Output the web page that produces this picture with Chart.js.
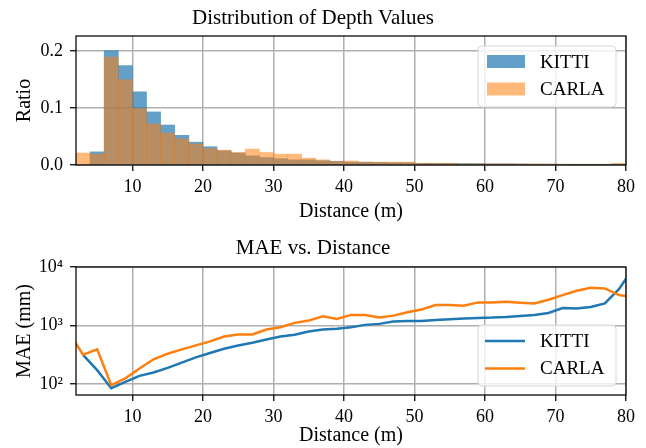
<!DOCTYPE html>
<html>
<head>
<meta charset="utf-8">
<script src="https://cdn.jsdelivr.net/npm/chart.js@4.4.0/dist/chart.umd.min.js"></script>
<style>
    html, body { margin: 0; padding: 0; background: #fff; }
    .box { position: absolute; left: 0; width: 646px; height: 224px; }
    #topBox { top: 0; }
    #bottomBox { top: 224px; }
</style>
</head>
<body>
<div class="box" id="topBox"><canvas id="histChart" width="646" height="224"></canvas></div>
<div class="box" id="bottomBox"><canvas id="maeChart" width="646" height="224"></canvas></div>
<script>
// ---- dados ----
const seriesNames = ['KITTI', 'CARLA'];

// centros dos bins de 2 m (2..80)
const binCenters = [3, 5, 7, 9, 11, 13, 15, 17, 19, 21, 23, 25, 27, 29, 31, 33, 35, 37, 39, 41,
    43, 45, 47, 49, 51, 53, 55, 57, 59, 61, 63, 65, 67, 69, 71, 73, 75, 77, 79];

const kittiRatio = [0.000, 0.023, 0.200, 0.174, 0.128, 0.093, 0.070, 0.052, 0.040, 0.032,
    0.025, 0.021, 0.016, 0.013, 0.011, 0.009, 0.009, 0.0075, 0.0065, 0.005,
    0.005, 0.0045, 0.004, 0.004, 0.003, 0.003, 0.003, 0.0025, 0.0025, 0.002,
    0.002, 0.0018, 0.0015, 0.0012, 0.001, 0.0005, 0.0003, 0.0002, 0.0001];

const carlaRatio = [0.021, 0.019, 0.189, 0.149, 0.099, 0.072, 0.056, 0.046, 0.037, 0.029,
    0.026, 0.022, 0.028, 0.022, 0.019, 0.019, 0.012, 0.009, 0.0065, 0.007,
    0.005, 0.005, 0.005, 0.005, 0.003, 0.003, 0.003, 0.002, 0.002, 0.002,
    0.002, 0.002, 0.002, 0.002, 0.001, 0.001, 0.001, 0.001, 0.003];

// distâncias do MAE (pontos fora do eixo são cortados)
const maeDistance = [1, 3, 5, 7, 9, 11, 13, 15, 17, 19, 21, 23, 25, 27, 29, 31, 33, 35, 37, 39, 41,
    43, 45, 47, 49, 51, 53, 55, 57, 59, 61, 63, 65, 67, 69, 71, 73, 75, 77, 79, 81];

const kittiMae = [null, 316, 173, 85, 109, 138, 158, 189, 233, 286, 340, 402, 455, 508, 579, 651,
    695, 791, 855, 879, 937, 1026, 1067, 1169, 1199, 1190, 1248, 1281, 1315, 1350, 1367,
    1403, 1459, 1518, 1640, 1991, 1960, 2072, 2390, 4180, 9500];

const carlaMae = [760, 318, 393, 96, 125, 185, 265, 330, 392, 458, 535, 650, 700, 703, 855, 935,
    1110, 1215, 1440, 1300, 1518, 1518, 1367, 1476, 1682, 1880, 2240, 2240, 2183, 2485, 2485,
    2550, 2455, 2390, 2760, 3310, 3920, 4400, 4300, 3310, 3100];

const distanceTicks = [10, 20, 30, 40, 50, 60, 70, 80];
const ratioTicks = [0, 0.1, 0.2];
const maeTicks = [100, 1000, 10000];

// ---- estilo ----
const FONT = "'Liberation Serif', 'Times New Roman', serif";
const BLUE = '#1f77b4';
const ORANGE = '#ff7f0e';
const GRID = '#b0b0b0';

const superDigits = { '0': '⁰', '1': '¹', '2': '²', '3': '³', '4': '⁴', '5': '⁵' };

// moldura preta em volta da área do gráfico
const framePlugin = {
    id: 'frame',
    afterDatasetsDraw(chart) {
        const { ctx, chartArea: a } = chart;
        ctx.save();
        ctx.strokeStyle = '#000';
        ctx.lineWidth = 1.25;
        ctx.strokeRect(a.left, a.top, a.right - a.left, a.bottom - a.top);
        ctx.restore();
    }
};

// legenda dentro do gráfico, estilo matplotlib
const boxLegendPlugin = {
    id: 'boxLegend',
    afterDraw(chart, args, opts) {
        const { ctx, chartArea: a } = chart;
        const w = 138, h = 61;
        const x = a.right - 10 - w;
        const y = opts.corner === 'bottom' ? a.bottom - 9 - h : a.top + 10;
        ctx.save();
        ctx.beginPath();
        ctx.roundRect(x, y, w, h, 4);
        ctx.fillStyle = 'rgba(255,255,255,0.8)';
        ctx.fill();
        ctx.strokeStyle = '#d6d6d6';
        ctx.lineWidth = 1;
        ctx.stroke();

        ctx.font = '19px ' + FONT;
        ctx.textBaseline = 'middle';
        ctx.fillStyle = '#000';
        opts.items.forEach((it, i) => {
            const cy = y + 16 + i * 27.5;
            if (opts.kind === 'patch') {
                ctx.fillStyle = it.color;
                ctx.fillRect(x + 9, cy - 7, 38, 13);
            } else {
                ctx.strokeStyle = it.color;
                ctx.lineWidth = 2.5;
                ctx.beginPath();
                ctx.moveTo(x + 7, cy);
                ctx.lineTo(x + 47, cy);
                ctx.stroke();
            }
            ctx.fillStyle = '#000';
            ctx.fillText(it.label, x + 62, cy + 1);
        });
        ctx.restore();
    }
};

function distanceAxis(axisHeight) {
    return {
        type: 'linear',
        min: 2,
        max: 80,
        offset: false,
        afterBuildTicks: (s) => { s.ticks = distanceTicks.map(v => ({ value: v })); },
        afterFit: (s) => { s.height = axisHeight; },
        grid: { color: GRID, lineWidth: 1.5, tickColor: '#000', tickLength: 6, tickWidth: 1.25, offset: false },
        border: { display: false },
        ticks: {
            color: '#000', padding: 5, maxRotation: 0, autoSkip: false,
            font: { family: FONT, size: 18 },
            callback: (v) => String(v)
        },
        title: {
            display: true, text: 'Distance (m)', color: '#000',
            font: { family: FONT, size: 20 },
            padding: { top: 0, bottom: 0 }
        }
    };
}

function leftAxis(extra) {
    return Object.assign({
        grid: { color: GRID, lineWidth: 1.5, tickColor: '#000', tickLength: 6, tickWidth: 1.25 },
        border: { display: false },
        afterFit: (s) => { s.width = 76; }
    }, extra);
}

// ---- histograma ----
function createHistChart() {
    const ctx = document.getElementById('histChart').getContext('2d');

    new Chart(ctx, {
        type: 'bar',
        data: {
            datasets: [
                {
                    label: seriesNames[0],
                    data: binCenters.map((x, i) => ({ x: x, y: kittiRatio[i] })),
                    backgroundColor: 'rgba(31,119,180,0.7)',
                    borderWidth: 0,
                    order: 1
                },
                {
                    label: seriesNames[1],
                    data: binCenters.map((x, i) => ({ x: x, y: carlaRatio[i] })),
                    backgroundColor: 'rgba(255,127,14,0.55)',
                    borderWidth: 0,
                    order: 0
                }
            ]
        },
        options: {
            responsive: false,
            animation: false,
            events: [],
            grouped: false,
            barPercentage: 1,
            categoryPercentage: 1,
            layout: { padding: { left: 0, right: 20, top: 0, bottom: 0 } },
            plugins: {
                legend: { display: false },
                tooltip: { enabled: false },
                title: {
                    display: true, text: 'Distribution of Depth Values', color: '#000',
                    font: { family: FONT, size: 21, weight: 'normal' },
                    padding: { top: 6, bottom: 4.8 }
                },
                boxLegend: {
                    kind: 'patch', corner: 'top',
                    items: [
                        { label: seriesNames[0], color: 'rgba(31,119,180,0.7)' },
                        { label: seriesNames[1], color: 'rgba(255,127,14,0.55)' }
                    ]
                }
            },
            scales: {
                x: distanceAxis(59),
                y: leftAxis({
                    type: 'linear',
                    min: 0,
                    max: 0.226,
                    afterBuildTicks: (s) => { s.ticks = ratioTicks.map(v => ({ value: v })); },
                    ticks: {
                        color: '#000', padding: 7,
                        font: { family: FONT, size: 18 },
                        callback: (v) => v.toFixed(1)
                    },
                    title: {
                        display: true, text: 'Ratio', color: '#000',
                        font: { family: FONT, size: 20 },
                        padding: { top: 13, bottom: 0 }
                    }
                })
            }
        },
        plugins: [framePlugin, boxLegendPlugin]
    });
}

// ---- MAE vs distância ----
function createMaeChart() {
    const ctx = document.getElementById('maeChart').getContext('2d');

    const line = (name, values, color) => ({
        label: name,
        data: maeDistance.map((x, i) => ({ x: x, y: values[i] })),
        borderColor: color,
        backgroundColor: color,
        borderWidth: 2.5,
        pointRadius: 0,
        tension: 0,
        spanGaps: false
    });

    new Chart(ctx, {
        type: 'line',
        data: {
            datasets: [
                line(seriesNames[1], carlaMae, ORANGE),
                line(seriesNames[0], kittiMae, BLUE)
            ]
        },
        options: {
            responsive: false,
            animation: false,
            events: [],
            layout: { padding: { left: 0, right: 20, top: 0, bottom: 0 } },
            plugins: {
                legend: { display: false },
                tooltip: { enabled: false },
                title: {
                    display: true, text: 'MAE vs. Distance', color: '#000',
                    font: { family: FONT, size: 21, weight: 'normal' },
                    padding: { top: 12, bottom: 5.8 }
                },
                boxLegend: {
                    kind: 'line', corner: 'bottom',
                    items: [
                        { label: seriesNames[0], color: BLUE },
                        { label: seriesNames[1], color: ORANGE }
                    ]
                }
            },
            scales: {
                x: distanceAxis(53),
                y: leftAxis({
                    type: 'logarithmic',
                    min: 65,
                    max: 10000,
                    afterBuildTicks: (s) => { s.ticks = maeTicks.map(v => ({ value: v })); },
                    ticks: {
                        color: '#000', padding: 7,
                        font: { family: FONT, size: 18 },
                        callback: (v) => '10' + superDigits[String(Math.round(Math.log10(v)))]
                    },
                    title: {
                        display: true, text: 'MAE (mm)', color: '#000',
                        font: { family: FONT, size: 20 },
                        padding: { top: 13, bottom: 0 }
                    }
                })
            }
        },
        plugins: [framePlugin, boxLegendPlugin]
    });
}

createHistChart();
createMaeChart();
</script>
</body>
</html>
